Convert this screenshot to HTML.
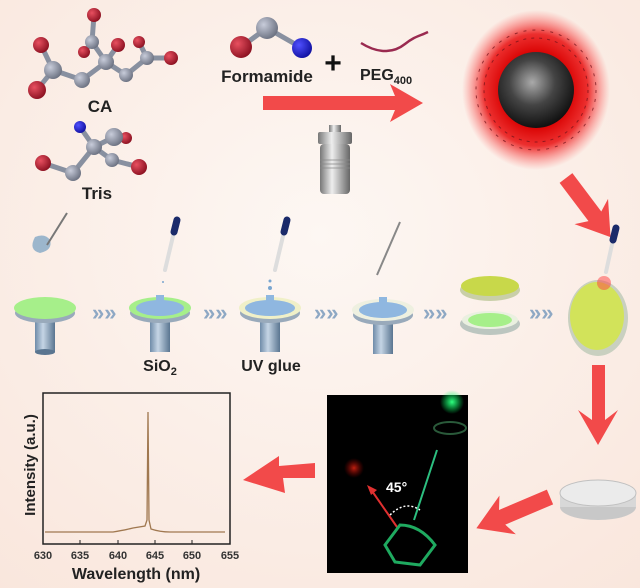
<!DOCTYPE html>
<html><head><meta charset="utf-8"><style>
html,body{margin:0;padding:0;background:#fbefe8;}
svg{display:block;font-family:"Liberation Sans",Arial,sans-serif;}
</style></head><body>
<svg width="640" height="588" viewBox="0 0 640 588">
<defs>
<radialGradient id="bg" cx="0.5" cy="0.4" r="0.8"><stop offset="0" stop-color="#fdf7f3"/><stop offset="1" stop-color="#f9e6dc"/></radialGradient>
<radialGradient id="rd" cx="0.35" cy="0.35" r="0.7"><stop offset="0" stop-color="#e85060"/><stop offset="1" stop-color="#8a1020"/></radialGradient>
<radialGradient id="gy" cx="0.35" cy="0.35" r="0.7"><stop offset="0" stop-color="#c8ccda"/><stop offset="1" stop-color="#6a7080"/></radialGradient>
<radialGradient id="bl" cx="0.35" cy="0.35" r="0.7"><stop offset="0" stop-color="#5050ff"/><stop offset="1" stop-color="#1010a0"/></radialGradient>
<radialGradient id="glow" cx="0.5" cy="0.5" r="0.5"><stop offset="0.45" stop-color="#d80000"/><stop offset="0.7" stop-color="#ea1a1a" stop-opacity="0.9"/><stop offset="1" stop-color="#ff6060" stop-opacity="0"/></radialGradient>
<radialGradient id="core" cx="0.45" cy="0.4" r="0.6"><stop offset="0" stop-color="#aaa"/><stop offset="0.5" stop-color="#444"/><stop offset="1" stop-color="#111"/></radialGradient>
<linearGradient id="steel" x1="0" x2="1"><stop offset="0" stop-color="#777"/><stop offset="0.4" stop-color="#eee"/><stop offset="1" stop-color="#666"/></linearGradient>
<linearGradient id="stem" x1="0" x2="1"><stop offset="0" stop-color="#6f8ba8"/><stop offset="0.4" stop-color="#c5d5e5"/><stop offset="1" stop-color="#5a7590"/></linearGradient>
<radialGradient id="gr" cx="0.5" cy="0.5" r="0.5"><stop offset="0" stop-color="#30ff80"/><stop offset="1" stop-color="#00ff60" stop-opacity="0"/></radialGradient>
<radialGradient id="rr" cx="0.5" cy="0.5" r="0.5"><stop offset="0" stop-color="#c02010"/><stop offset="1" stop-color="#800000" stop-opacity="0"/></radialGradient>
</defs>
<rect width="640" height="588" fill="url(#bg)"/>

<!-- CA molecule -->
<g stroke="#8890a0" stroke-width="5" fill="none">
<polyline points="41,45 53,70 82,80 106,62 126,75 147,58 171,58"/>
<line x1="53" y1="70" x2="37" y2="90"/><line x1="106" y1="62" x2="92" y2="42"/><line x1="92" y1="42" x2="94" y2="15"/><line x1="92" y1="42" x2="84" y2="52"/><line x1="106" y1="62" x2="118" y2="45"/><line x1="147" y1="58" x2="139" y2="42"/>
</g>
<g fill="url(#rd)"><circle cx="94" cy="15" r="7"/><circle cx="41" cy="45" r="8"/><circle cx="37" cy="90" r="9"/><circle cx="118" cy="45" r="7"/><circle cx="139" cy="42" r="6"/><circle cx="171" cy="58" r="7"/><circle cx="84" cy="52" r="6"/></g>
<g fill="url(#gy)"><circle cx="92" cy="42" r="7"/><circle cx="53" cy="70" r="9"/><circle cx="82" cy="80" r="8"/><circle cx="106" cy="62" r="8"/><circle cx="126" cy="75" r="7"/><circle cx="147" cy="58" r="7"/></g>
<text x="100" y="112" font-size="17" font-weight="bold" text-anchor="middle" fill="#222">CA</text>
<!-- Tris -->
<g stroke="#8890a0" stroke-width="5"><line x1="80" y1="127" x2="94" y2="147"/><line x1="94" y1="147" x2="114" y2="137"/><line x1="94" y1="147" x2="112" y2="160"/><line x1="94" y1="147" x2="73" y2="173"/><line x1="73" y1="173" x2="43" y2="163"/><line x1="112" y1="160" x2="139" y2="167"/><line x1="114" y1="137" x2="126" y2="138"/></g>
<circle cx="80" cy="127" r="6" fill="url(#bl)"/>
<g fill="url(#rd)"><circle cx="126" cy="138" r="6"/><circle cx="139" cy="167" r="8"/><circle cx="43" cy="163" r="8"/></g>
<g fill="url(#gy)"><circle cx="114" cy="137" r="9"/><circle cx="94" cy="147" r="8"/><circle cx="112" cy="160" r="7"/><circle cx="73" cy="173" r="8"/></g>
<text x="97" y="199" font-size="17" font-weight="bold" text-anchor="middle" fill="#222">Tris</text>

<!-- Formamide -->
<g stroke="#8890a0" stroke-width="5"><line x1="241" y1="47" x2="267" y2="28"/><line x1="267" y1="28" x2="302" y2="48"/></g>
<circle cx="241" cy="47" r="11" fill="url(#rd)"/><circle cx="267" cy="28" r="11" fill="url(#gy)"/><circle cx="302" cy="48" r="10" fill="url(#bl)"/>
<text x="267" y="82" font-size="17" font-weight="bold" text-anchor="middle" fill="#222">Formamide</text>
<text x="333" y="73" font-size="30" font-weight="bold" text-anchor="middle" fill="#111">+</text>
<path d="M361,43 C380,55 395,52 405,44 S420,36 428,32" stroke="#9a2a50" stroke-width="2.5" fill="none"/>
<text x="360" y="80" font-size="16" font-weight="bold" fill="#222">PEG<tspan font-size="11" dy="4">400</tspan></text>
<!-- main arrow -->
<polygon points="263,96 395,96 390,84 423,103 390,122 395,110 263,110" fill="#f24a4a"/>
<!-- autoclave -->
<rect x="329" y="125" width="12" height="8" fill="url(#steel)"/>
<rect x="318" y="132" width="34" height="12" rx="2" fill="url(#steel)"/>
<rect x="320" y="144" width="30" height="50" rx="4" fill="url(#steel)"/>
<g stroke="#888" stroke-width="0.7"><line x1="320" y1="160" x2="350" y2="160"/><line x1="320" y1="164" x2="350" y2="164"/><line x1="320" y1="168" x2="350" y2="168"/></g>
<!-- nanoparticle -->
<ellipse cx="536" cy="90" rx="74" ry="80" fill="url(#glow)"/>
<g stroke="#701018" stroke-width="1" fill="none" opacity="0.7">
<circle cx="536" cy="90" r="52" stroke-dasharray="3 5"/><circle cx="536" cy="90" r="60" stroke-dasharray="3 6"/>
</g>
<circle cx="536" cy="90" r="38" fill="url(#core)"/>

<!-- diagonal arrow -->
<polygon points="0,-8 48,-8 42,-21 74,0 42,21 48,8 0,8" fill="#f24a4a" transform="translate(566,178) rotate(53)"/>

<!-- process row -->
<g>
<rect x="35" y="318" width="20" height="34" fill="url(#stem)"/>
<ellipse cx="45" cy="352" rx="10" ry="3" fill="#5a7590"/>
<ellipse cx="45" cy="313" rx="30" ry="10" fill="#9ab"/>
<ellipse cx="45" cy="308" rx="31" ry="11" fill="#a6ef8a"/>
<path d="M35,237 q10,-4 15,3 q3,10 -10,13 q-12,-3 -5,-16z" fill="#9cb6cc"/>
<line x1="47" y1="245" x2="67" y2="213" stroke="#777" stroke-width="2"/>
</g>
<g>
<rect x="150" y="318" width="20" height="34" fill="url(#stem)"/>
<ellipse cx="160" cy="313" rx="30" ry="10" fill="#9ab"/>
<ellipse cx="160" cy="308" rx="31" ry="11" fill="#a6ef8a"/>
<ellipse cx="160" cy="308" rx="24" ry="8" fill="#8fb7e0"/>
<rect x="156" y="295" width="8" height="8" fill="#8fb7e0"/>
</g>
<g>
<rect x="260" y="318" width="20" height="34" fill="url(#stem)"/>
<ellipse cx="270" cy="313" rx="30" ry="10" fill="#9ab"/>
<ellipse cx="270" cy="308" rx="31" ry="11" fill="#f0f0c8"/>
<ellipse cx="270" cy="308" rx="25" ry="8" fill="#8fb7e0"/>
<rect x="266" y="295" width="8" height="8" fill="#8fb7e0"/>
</g>
<g>
<rect x="373" y="320" width="20" height="34" fill="url(#stem)"/>
<ellipse cx="383" cy="315" rx="30" ry="10" fill="#9ab"/>
<ellipse cx="383" cy="310" rx="31" ry="11" fill="#eef0e0"/>
<ellipse cx="383" cy="310" rx="24" ry="8" fill="#8fb7e0"/>
<rect x="379" y="297" width="8" height="8" fill="#8fb7e0"/>
<line x1="377" y1="275" x2="400" y2="222" stroke="#888" stroke-width="2"/>
</g>
<g stroke-linecap="round">
<line x1="165" y1="270" x2="174" y2="232" stroke="#ddd" stroke-width="4"/>
<line x1="174" y1="232" x2="177" y2="220" stroke="#1a2a6a" stroke-width="7"/>
<line x1="275" y1="270" x2="284" y2="232" stroke="#ddd" stroke-width="4"/>
<line x1="284" y1="232" x2="287" y2="220" stroke="#1a2a6a" stroke-width="7"/>
<line x1="606" y1="272" x2="613" y2="240" stroke="#ddd" stroke-width="4"/>
<line x1="613" y1="240" x2="616" y2="228" stroke="#1a2a6a" stroke-width="7"/>
</g>
<g fill="#7aa6d0"><circle cx="270" cy="281" r="1.5"/><circle cx="270" cy="288" r="2"/><circle cx="163" cy="282" r="1"/></g>
<ellipse cx="490" cy="290" rx="30" ry="11" fill="#c9cfa8"/>
<ellipse cx="490" cy="286" rx="29" ry="10" fill="#c8d84a"/>
<ellipse cx="490" cy="324" rx="30" ry="11" fill="#bcc6c0"/>
<ellipse cx="490" cy="320" rx="28" ry="9" fill="#eaf0e0"/>
<ellipse cx="490" cy="320" rx="22" ry="7" fill="#a6ef8a"/>
<ellipse cx="598" cy="318" rx="30" ry="38" fill="#c9d0c0"/>
<ellipse cx="597" cy="316" rx="27" ry="34" fill="#d2e35a"/>
<circle cx="604" cy="283" r="7" fill="#ff4040" opacity="0.5"/>
<g fill="#8ea8c4" font-size="22" font-weight="bold">
<text x="92" y="320">»»</text><text x="203" y="320">»»</text><text x="314" y="320">»»</text><text x="423" y="320">»»</text><text x="529" y="320">»»</text>
</g>
<text x="160" y="371" font-size="16" font-weight="bold" text-anchor="middle" fill="#222">SiO<tspan font-size="11" dy="4">2</tspan></text>
<text x="271" y="371" font-size="16" font-weight="bold" text-anchor="middle" fill="#222">UV glue</text>

<!-- down arrow -->
<polygon points="592,365 605,365 605,420 618,410 598,445 578,410 592,420" fill="#f24a4a"/>
<!-- petri -->
<ellipse cx="598" cy="507" rx="38" ry="13" fill="#c8c8c8"/>
<rect x="560" y="493" width="76" height="14" fill="#d8d8d8"/>
<ellipse cx="598" cy="493" rx="38" ry="13" fill="#ebebeb" stroke="#c0c0c0"/>
<!-- arrow lower-left -->
<polygon points="0,-8 52,-8 46,-21 80,0 46,21 52,8 0,8" fill="#f24a4a" transform="translate(550,497) rotate(157)"/>
<!-- photo -->
<rect x="327" y="395" width="141" height="178" fill="#000"/>
<circle cx="452" cy="402" r="12" fill="url(#gr)"/>
<ellipse cx="450" cy="428" rx="16" ry="6" fill="none" stroke="#2a5a3a" stroke-width="2"/>
<circle cx="354" cy="468" r="10" fill="url(#rr)"/>
<line x1="437" y1="450" x2="414" y2="520" stroke="#2cbf80" stroke-width="2"/>
<line x1="397" y1="527" x2="372" y2="491" stroke="#e03030" stroke-width="2"/>
<polygon points="367,485 377,490 371,495" fill="#e03030"/>
<text x="386" y="492" font-size="14" font-weight="bold" fill="#fff">45°</text>
<path d="M390,515 Q405,500 420,510" stroke="#fff" stroke-width="1.5" stroke-dasharray="2 2" fill="none"/>
<path d="M385,545 L400,525 Q420,525 435,545 L420,565 L395,562 Z" fill="none" stroke="#1faa60" stroke-width="3"/>
<!-- left arrow -->
<polygon points="315,463 315,478 283,478 285,493 243,480 279,456 279,466" fill="#f24a4a"/>
<!-- plot -->
<rect x="43" y="393" width="187" height="151" fill="none" stroke="#222" stroke-width="1.5"/>
<path d="M45,532 L113,532 Q125,530 133,528 L145,526 L147,520 L148,412 L149,520 L151,529 Q160,532 170,532 L225,532" stroke="#a07850" stroke-width="1.3" fill="none"/>
<g stroke="#222" stroke-width="1"><line x1="43" y1="544" x2="43" y2="540"/><line x1="80" y1="544" x2="80" y2="540"/><line x1="118" y1="544" x2="118" y2="540"/><line x1="155" y1="544" x2="155" y2="540"/><line x1="192" y1="544" x2="192" y2="540"/><line x1="230" y1="544" x2="230" y2="540"/></g>
<g font-size="11" font-weight="bold" fill="#333" text-anchor="middle"><text x="43" y="559">630</text><text x="80" y="559">635</text><text x="118" y="559">640</text><text x="155" y="559">645</text><text x="192" y="559">650</text><text x="230" y="559">655</text></g>
<text x="136" y="579" font-size="16" font-weight="bold" text-anchor="middle" fill="#222">Wavelength (nm)</text>
<text transform="translate(35,465) rotate(-90)" font-size="15" font-weight="bold" text-anchor="middle" fill="#222">Intensity (a.u.)</text>
</svg>
</body></html>
